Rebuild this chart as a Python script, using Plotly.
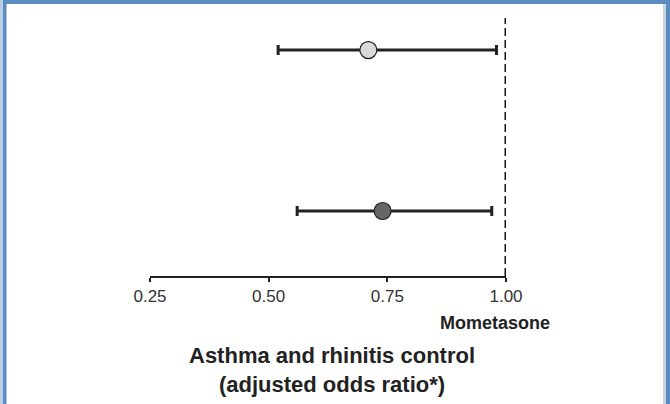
import plotly.graph_objects as go

# Data
groups = ["Group A", "Group B"]
odds_ratio = [0.71, 0.74]
ci_low = [0.52, 0.56]
ci_high = [0.98, 0.97]
ypos = [1, 0]
marker_fill = ["#d9d9d9", "#666666"]
tick_vals = [0.25, 0.50, 0.75, 1.00]
tick_text = ["0.25", "0.50", "0.75", "1.00"]

W, H = 670, 404
L, R, T, B = 150, 164, 18, 128
pw, ph = W - L - R, H - T - B

def px_x(x):
    return (x - L) / pw

def px_y(y):
    return (H - B - y) / ph

fig = go.Figure()
for i in range(len(groups)):
    fig.add_trace(go.Scatter(
        x=[odds_ratio[i]], y=[ypos[i]], mode="markers",
        marker=dict(size=17, color=marker_fill[i], line=dict(color="#222222", width=1.2)),
        error_x=dict(type="data", symmetric=False,
                     array=[ci_high[i] - odds_ratio[i]],
                     arrayminus=[odds_ratio[i] - ci_low[i]],
                     color="#222222", thickness=3, width=5),
        showlegend=False, name=groups[i], cliponaxis=False,
    ))

shapes = [
    dict(type="line", xref="x", yref="paper", x0=1.0, x1=1.0, y0=0, y1=1,
         line=dict(color="#111111", width=3, dash="8px,4px")),
    # frame
    dict(type="rect", xref="paper", yref="paper", x0=px_x(0), x1=px_x(W), y0=px_y(0), y1=px_y(4),
         fillcolor="#5b8cc0", line=dict(width=0), layer="above"),
    dict(type="rect", xref="paper", yref="paper", x0=px_x(0), x1=px_x(3), y0=px_y(0), y1=px_y(H),
         fillcolor="#b9cfe6", line=dict(width=0), layer="above"),
    dict(type="rect", xref="paper", yref="paper", x0=px_x(3), x1=px_x(6.5), y0=px_y(0), y1=px_y(H),
         fillcolor="#5b8cc0", line=dict(width=0), layer="above"),
    dict(type="rect", xref="paper", yref="paper", x0=px_x(663), x1=px_x(666), y0=px_y(4), y1=px_y(H),
         fillcolor="#c9d3de", line=dict(width=0), layer="above"),
    dict(type="rect", xref="paper", yref="paper", x0=px_x(666), x1=px_x(W), y0=px_y(0), y1=px_y(H),
         fillcolor="#5b8cc0", line=dict(width=0), layer="above"),
]

annotations = [
    dict(text="<b>Mometasone</b>", xref="paper", yref="paper", x=px_x(495), y=px_y(323),
         xanchor="center", yanchor="middle", showarrow=False,
         font=dict(family="Liberation Sans, Arial", size=18, color="#222222")),
    dict(text="<b>Asthma and rhinitis control<br>(adjusted odds ratio*)</b>", xref="paper", yref="paper",
         x=px_x(332), y=px_y(370), xanchor="center", yanchor="middle", showarrow=False,
         font=dict(family="Liberation Sans, Arial", size=22, color="#222222")),
]

fig.update_layout(
    width=W, height=H,
    margin=dict(l=L, r=R, t=T, b=B),
    paper_bgcolor="white", plot_bgcolor="white",
    shapes=shapes, annotations=annotations,
    xaxis=dict(range=[0.25, 1.0], tickvals=tick_vals, ticktext=tick_text,
               showgrid=False, zeroline=False, showline=True, linecolor="#222222", linewidth=2,
               ticks="outside", ticklen=4, tickwidth=2, tickcolor="#222222",
               tickfont=dict(family="Liberation Sans, Arial", size=17, color="#333333")),
    yaxis=dict(range=[-0.404, 1.199], visible=False, showgrid=False, zeroline=False),
)

fig.write_html("out.html", config={"displayModeBar": False},
               post_script="document.body.style.margin='0';")
